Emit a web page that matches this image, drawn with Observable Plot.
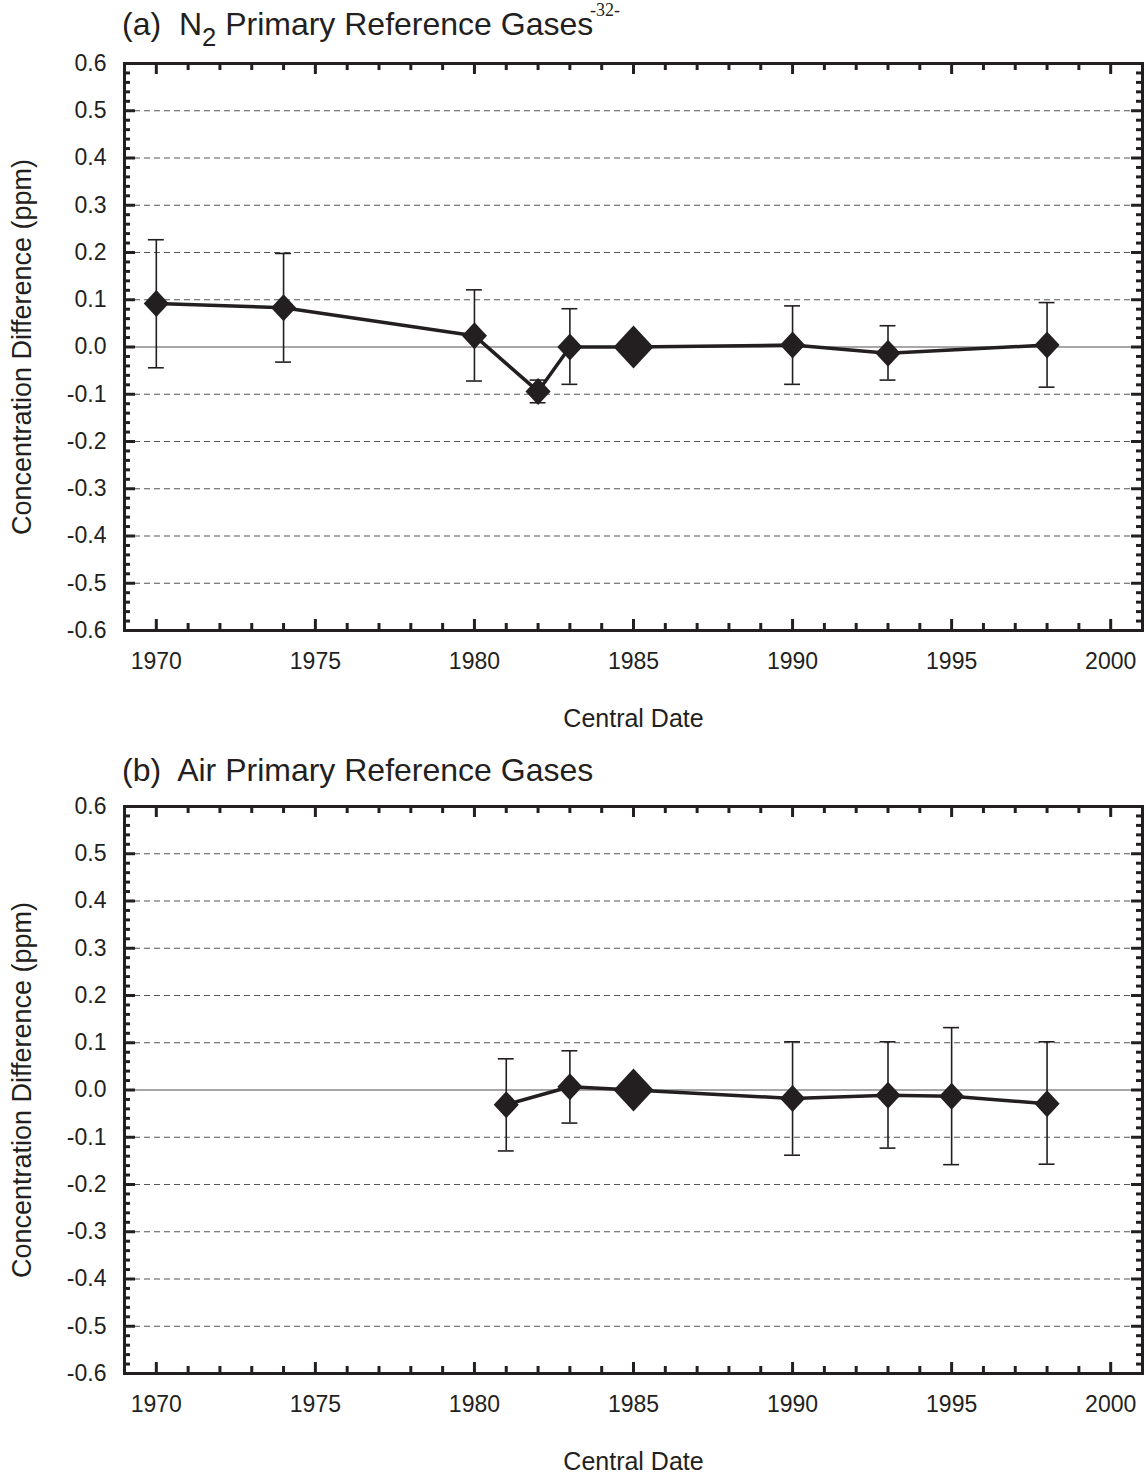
<!DOCTYPE html>
<html>
<head>
<meta charset="utf-8">
<script src="https://cdn.jsdelivr.net/npm/d3@7"></script>
<script src="https://cdn.jsdelivr.net/npm/@observablehq/plot@0.6"></script>
<style>
  html, body { margin: 0; padding: 0; background: #fff; }
  body { width: 1146px; height: 1473px; overflow: hidden; position: relative;
         font-family: "Liberation Sans", Arial, Helvetica, sans-serif; color: #231f20; }
  .title { position: absolute; left: 122px; font-size: 32px; line-height: 1; white-space: nowrap; z-index: 2; }
  .title .sub { font-size: 0.8em; position: relative; top: 0.42em; }
  .page { position: absolute; left: 590px; top: 0px; font-family: "Liberation Serif", "DejaVu Serif", serif;
          font-size: 18px; line-height: 1.15; z-index: 2; }
  .chart { position: absolute; left: 0; z-index: 1; }
</style>
</head>
<body>
<div class="chart" id="chartA" style="top:40px"></div>
<div class="chart" id="chartB" style="top:783px"></div>
<div class="page">-32-</div>
<div class="title" style="top:8px">(a)&nbsp; N<span class="sub">2</span> Primary Reference Gases</div>
<div class="title" style="top:754px">(b)&nbsp; Air Primary Reference Gases</div>
<script>
// ---- data ----
const refYear = 1985;

const yearsA = [1970, 1974, 1980, 1982, 1983, 1985, 1990, 1993, 1998];
const diffA  = [0.092, 0.083, 0.024, -0.094, 0.000, 0.000, 0.004, -0.013, 0.004];
const upperA = [0.227, 0.198, 0.121, -0.070, 0.081, null, 0.087, 0.045, 0.094];
const lowerA = [-0.044, -0.032, -0.072, -0.118, -0.079, null, -0.079, -0.070, -0.085];

const yearsB = [1981, 1983, 1985, 1990, 1993, 1995, 1998];
const diffB  = [-0.031, 0.007, 0.000, -0.018, -0.011, -0.013, -0.029];
const upperB = [0.066, 0.083, null, 0.102, 0.102, 0.132, 0.102];
const lowerB = [-0.129, -0.070, null, -0.138, -0.123, -0.158, -0.157];

const xTickLabels = [1970, 1975, 1980, 1985, 1990, 1995, 2000];
const yTickLabels = [-0.6, -0.5, -0.4, -0.3, -0.2, -0.1, 0.0, 0.1, 0.2, 0.3, 0.4, 0.5, 0.6];
const xLabel = "Central Date";
const yLabel = "Concentration Difference (ppm)";

// ---- derived tick sets ----
const xMinor = d3.range(1970, 2001).filter(v => v % 5 !== 0);
const xMajor = xTickLabels;
const yMinor = d3.range(-29, 30).filter(k => k % 5 !== 0).map(k => k / 50);
const yMajor = d3.range(-5, 6).map(k => k / 10);
const yGrid = d3.range(-5, 6).filter(k => k !== 0).map(k => k / 10);

const ink = "#231f20";
const diamond = {
  draw(ctx, size) {
    const r = Math.sqrt(size / Math.PI);
    const w = r * 0.93;
    ctx.moveTo(0, -r); ctx.lineTo(w, 0); ctx.lineTo(0, r); ctx.lineTo(-w, 0); ctx.closePath();
  }
};

function panel(years, diff, upper, lower, height, marginBottom) {
  const rows = years.map((x, i) => ({x, y: diff[i], hi: upper[i], lo: lower[i]}));
  const bars = rows.filter(d => d.hi != null);
  const W = 1146, mL = 124, mR = 4, mT = 23;
  const pw = W - mL - mR, ph = height - mT - marginBottom;
  const tickCommon = {stroke: ink, strokeWidth: 3};
  return Plot.plot({
    width: W, height, marginLeft: mL, marginRight: mR, marginTop: mT, marginBottom,
    x: {domain: [1969, 2001]},
    y: {domain: [-0.6, 0.6]},
    style: {background: "transparent", color: ink, fontFamily: '"Liberation Sans", Arial, Helvetica, sans-serif', overflow: "visible"},
    marks: [
      Plot.ruleY(yGrid, {stroke: "#555", strokeWidth: 1.1, strokeDasharray: "6,4"}),
      Plot.ruleY([0], {stroke: "#8a8a8a", strokeWidth: 1.5}),
      Plot.ruleX(bars, {x: "x", y1: "lo", y2: "hi", stroke: ink, strokeWidth: 1.6}),
      Plot.ruleY(bars, {y: "hi", x1: d => d.x - 0.25, x2: d => d.x + 0.25, stroke: ink, strokeWidth: 1.6}),
      Plot.ruleY(bars, {y: "lo", x1: d => d.x - 0.25, x2: d => d.x + 0.25, stroke: ink, strokeWidth: 1.6}),
      Plot.line(rows, {x: "x", y: "y", stroke: ink, strokeWidth: 3.5}),
      Plot.dot(rows.filter(d => d.x !== refYear), {x: "x", y: "y", r: 13.5, symbol: diamond, fill: ink, stroke: "none"}),
      Plot.dot(rows.filter(d => d.x === refYear), {x: "x", y: "y", r: 21.5, symbol: diamond, fill: ink, stroke: "none"}),
      // inward ticks on all four sides
      Plot.tickX(xMajor, {x: d => d, insetTop: ph - 11, ...tickCommon}),
      Plot.tickX(xMinor, {x: d => d, insetTop: ph - 7, ...tickCommon}),
      Plot.tickX(xMajor, {x: d => d, insetBottom: ph - 11, ...tickCommon}),
      Plot.tickX(xMinor, {x: d => d, insetBottom: ph - 7, ...tickCommon}),
      Plot.tickY(yMajor, {y: d => d, insetRight: pw - 11, ...tickCommon}),
      Plot.tickY(yMinor, {y: d => d, insetRight: pw - 6, ...tickCommon}),
      Plot.tickY(yMajor, {y: d => d, insetLeft: pw - 11, ...tickCommon}),
      Plot.tickY(yMinor, {y: d => d, insetLeft: pw - 6, ...tickCommon}),
      Plot.frame({stroke: ink, strokeWidth: 3}),
      Plot.axisX({ticks: xTickLabels, tickSize: 0, tickPadding: 22, fontSize: 23, tickFormat: d => String(d), label: null}),
      Plot.axisX({ticks: [], tickSize: 0, label: xLabel, labelAnchor: "center", labelArrow: "none", labelOffset: 96, fontSize: 25}),
      Plot.axisY({ticks: yTickLabels, tickSize: 0, tickPadding: 18, fontSize: 23, tickFormat: d => d.toFixed(1), label: null}),
      Plot.axisY({ticks: [], tickSize: 0, label: yLabel, labelAnchor: "center", labelArrow: "none", labelOffset: 113, fontSize: 27})
    ]
  });
}

document.getElementById("chartA").append(panel(yearsA, diffA, upperA, lowerA, 700, 110));
document.getElementById("chartB").append(panel(yearsB, diffB, upperB, lowerB, 690, 100));
</script>
</body>
</html>
